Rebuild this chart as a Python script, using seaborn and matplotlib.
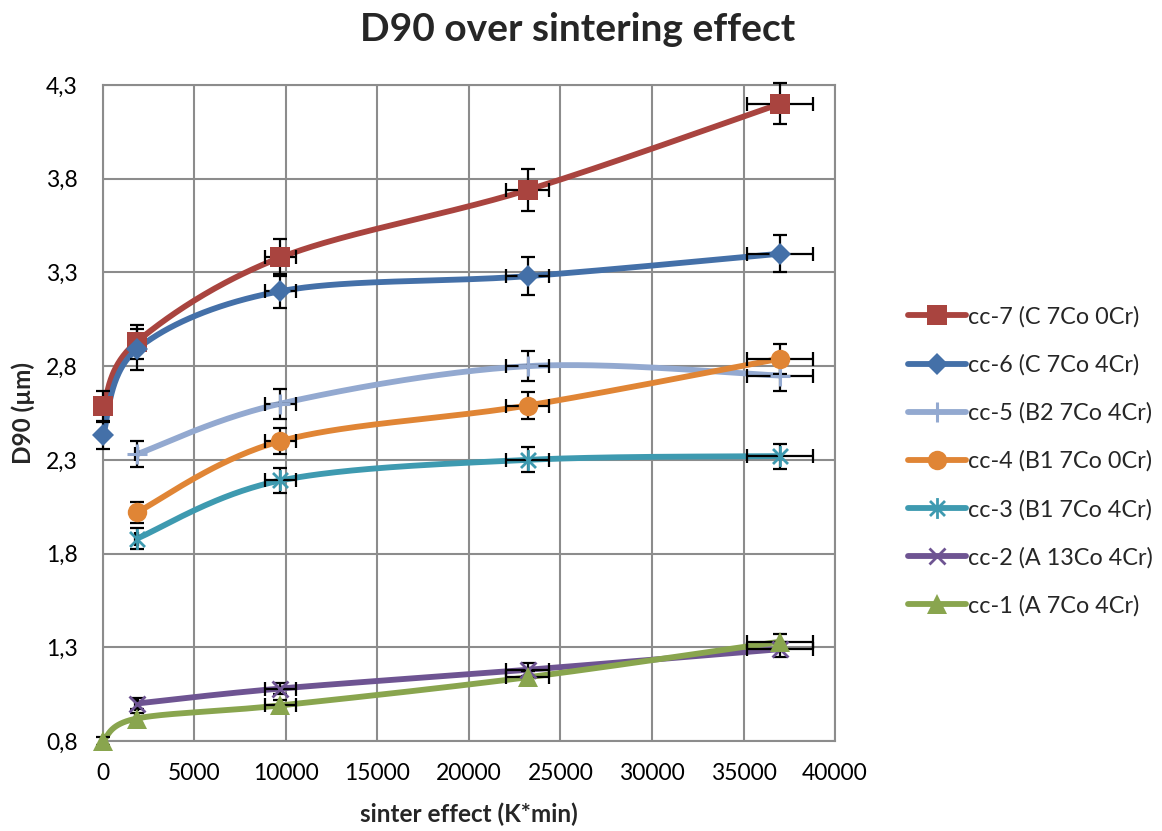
import numpy as np
import pandas as pd
import matplotlib
matplotlib.use("Agg")
import matplotlib.pyplot as plt
from matplotlib.lines import Line2D
from matplotlib.path import Path
from matplotlib.ticker import FuncFormatter
import seaborn as sns

# ---- data -------------------------------------------------------------
series_names = [
    "cc-7 (C 7Co 0Cr)",
    "cc-6 (C 7Co 4Cr)",
    "cc-5 (B2 7Co 4Cr)",
    "cc-4 (B1 7Co 0Cr)",
    "cc-3 (B1 7Co 4Cr)",
    "cc-2 (A 13Co 4Cr)",
    "cc-1 (A 7Co 4Cr)",
]

x_full = [0, 1850, 9700, 23200, 37000]
x_part = [1850, 9700, 23200, 37000]
xerr_full = [0, 90, 850, 1170, 1800]
xerr_part = [90, 850, 1170, 1800]

d90_cc7 = [2.59, 2.93, 3.38, 3.74, 4.20]
d90_cc6 = [2.43, 2.89, 3.20, 3.28, 3.40]
d90_cc5 = [2.33, 2.60, 2.80, 2.75]
d90_cc4 = [2.02, 2.40, 2.59, 2.84]
d90_cc3 = [1.88, 2.19, 2.30, 2.32]
d90_cc2 = [1.00, 1.08, 1.18, 1.29]
d90_cc1 = [0.80, 0.92, 0.99, 1.14, 1.33]

err_cc7 = [0.08, 0.09, 0.10, 0.11, 0.11]
err_cc6 = [0.07, 0.11, 0.09, 0.10, 0.10]
err_cc5 = [0.07, 0.08, 0.08, 0.08]
err_cc4 = [0.055, 0.07, 0.07, 0.08]
err_cc3 = [0.055, 0.067, 0.067, 0.067]
err_cc2 = [0.03, 0.03, 0.035, 0.04]
err_cc1 = [0.02, 0.03, 0.03, 0.035, 0.04]

x_values = [x_full, x_full, x_part, x_part, x_part, x_part, x_full]
x_errors = [xerr_full, xerr_full, xerr_part, xerr_part, xerr_part, xerr_part, xerr_full]
y_values = [d90_cc7, d90_cc6, d90_cc5, d90_cc4, d90_cc3, d90_cc2, d90_cc1]
y_errors = [err_cc7, err_cc6, err_cc5, err_cc4, err_cc3, err_cc2, err_cc1]

colors = ["#A9443F", "#4470A8", "#93A9D0", "#E08535", "#3E9AB0", "#6E5492", "#89A54E"]

x_ticks = [0, 5000, 10000, 15000, 20000, 25000, 30000, 35000, 40000]
y_ticks = [0.8, 1.3, 1.8, 2.3, 2.8, 3.3, 3.8, 4.3]

# ---- markers ----------------------------------------------------------
asterisk = Path(
    [(0, -1), (0, 1), (-0.72, -0.72), (0.72, 0.72), (-0.72, 0.72), (0.72, -0.72)],
    [Path.MOVETO, Path.LINETO, Path.MOVETO, Path.LINETO, Path.MOVETO, Path.LINETO],
)
markers = ["s", "D", "+", "o", asterisk, "x", "^"]
msizes = [14, 11, 14, 14, 15, 12, 14]
medge = [0, 0, 2.2, 0, 2.0, 2.0, 0]


def smooth_curve(xs, ys, n=60):
    """Cubic Bezier smoothing through the points (Catmull-Rom style)."""
    p = np.column_stack([xs, ys]).astype(float)
    ext = np.vstack([p[0], p, p[-1]])
    t = np.linspace(0, 1, n)[:, None]
    out = []
    for i in range(len(p) - 1):
        p0, p1, p2, p3 = ext[i], ext[i + 1], ext[i + 2], ext[i + 3]
        b1 = p1 + (p2 - p0) / 6.0
        b2 = p2 - (p3 - p1) / 6.0
        seg = ((1 - t) ** 3) * p1 + 3 * ((1 - t) ** 2) * t * b1 + 3 * (1 - t) * t ** 2 * b2 + t ** 3 * p2
        out.append(seg if i == 0 else seg[1:])
    c = np.vstack(out)
    return c[:, 0], c[:, 1]


frames = []
for name, xs, ys in zip(series_names, x_values, y_values):
    cx, cy = smooth_curve(xs, ys)
    frames.append(pd.DataFrame({"x": cx, "y": cy, "series": name}))
curves = pd.concat(frames, ignore_index=True)

# ---- figure -----------------------------------------------------------
sns.set_style("white")
plt.rcParams["font.family"] = ["Lato", "DejaVu Sans"]

fig = plt.figure(figsize=(11.62, 8.31), dpi=100)
ax = fig.add_axes([0.0886, 0.1083, 0.6300, 0.7894])

sns.lineplot(
    data=curves, x="x", y="y", hue="series", hue_order=series_names,
    palette=colors, sort=False, estimator=None, units="series",
    linewidth=4.2, legend=False, ax=ax, zorder=3,
)

for i, (xs, ys, xe, ye) in enumerate(zip(x_values, y_values, x_errors, y_errors)):
    ax.errorbar(
        xs, ys, xerr=xe, yerr=ye, fmt="none", ecolor="black",
        elinewidth=1.6, capsize=5, capthick=1.6, zorder=4 + i * 0.1, clip_on=False,
    )
    ax.plot(
        xs, ys, linestyle="none", marker=markers[i], markersize=msizes[i],
        color=colors[i], markeredgecolor=colors[i], markeredgewidth=medge[i],
        zorder=5 + i * 0.1, clip_on=False,
    )

ax.set_xlim(0, 40000)
ax.set_ylim(0.8, 4.3)
ax.set_xticks(x_ticks)
ax.set_yticks(y_ticks)
ax.yaxis.set_major_formatter(FuncFormatter(lambda v, _: f"{v:.1f}".replace(".", ",")))
ax.xaxis.set_major_formatter(FuncFormatter(lambda v, _: f"{int(round(v))}"))
ax.tick_params(axis="both", labelsize=16.5, length=0, colors="black")
ax.tick_params(axis="x", pad=16)
ax.tick_params(axis="y", pad=18)

ax.grid(True, color="#8C8C8C", linewidth=1.5)
ax.set_axisbelow(True)
for s in ax.spines.values():
    s.set_color("#8C8C8C")
    s.set_linewidth(1.5)

ax.set_xlabel("sinter effect (K*min)", fontsize=17.5, fontweight="bold", labelpad=13)
ax.set_ylabel("D90 (µm)", fontsize=17.5, fontweight="bold", labelpad=8)
fig.suptitle("D90 over sintering effect", fontsize=28, fontweight="bold", x=0.497, y=0.985)

handles = [
    Line2D([0], [0], color=colors[i], linewidth=4.2, marker=markers[i],
           markersize=msizes[i], markeredgecolor=colors[i], markeredgewidth=medge[i])
    for i in range(len(series_names))
]
fig.legend(
    handles, series_names, loc="center left", bbox_to_anchor=(0.773, 0.445),
    frameon=False, fontsize=16.8, handlelength=2.5, handletextpad=0.1,
    labelspacing=1.14, borderaxespad=0,
)

fig.savefig("out.png", dpi=100)
